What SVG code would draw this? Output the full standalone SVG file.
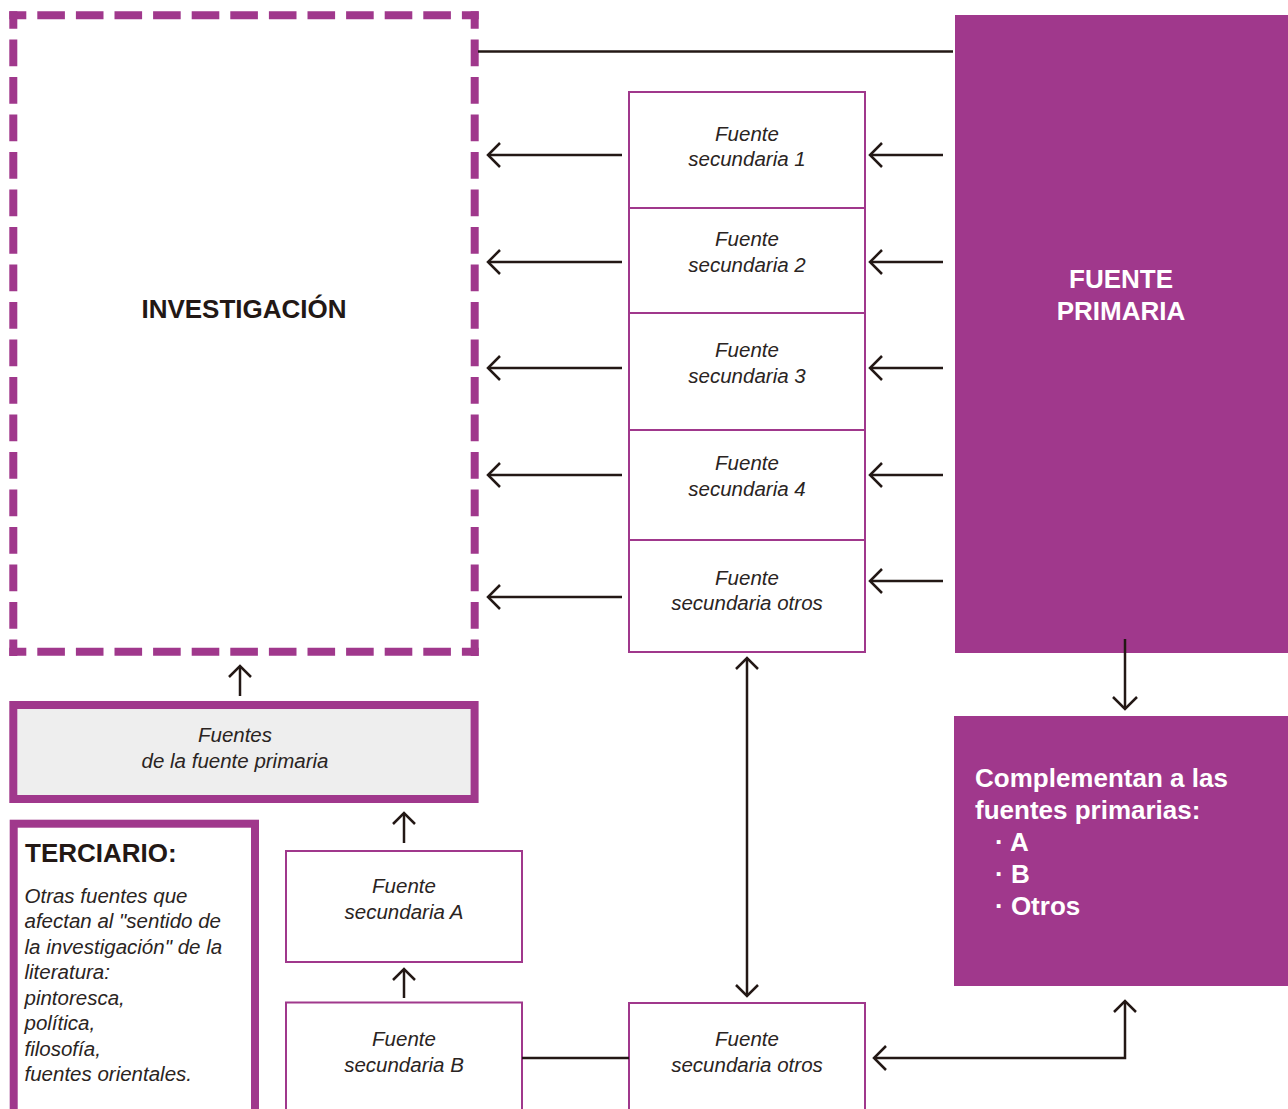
<svg xmlns="http://www.w3.org/2000/svg" width="1288" height="1109" viewBox="0 0 1288 1109">
<style>
.pur{fill:#a0388c}
.dash{stroke:#a0388c;stroke-width:8;fill:none;stroke-linecap:butt}
.dh{stroke-dasharray:27.6 11;stroke-dashoffset:10.6}
.dv{stroke-dasharray:26.6 10.9;stroke-dashoffset:9.2}
.box{fill:#ffffff;stroke:#a0388c;stroke-width:2}
.thick{stroke:#a0388c;stroke-width:8}
.lbl{font-family:"Liberation Sans",Arial,sans-serif;font-style:italic;font-size:20.5px;fill:#2a2422;text-anchor:middle}
.body{font-family:"Liberation Sans",Arial,sans-serif;font-style:italic;font-size:20.5px;fill:#2a2422}
.bold{font-family:"Liberation Sans",Arial,sans-serif;font-weight:bold;font-size:26px}
.cb{font-family:"Liberation Sans",Arial,sans-serif;font-weight:bold;font-size:26px;fill:#ffffff}
.w{fill:#ffffff}
.k{fill:#231815}
.ln{stroke:#231815;stroke-width:2.5;fill:none}
.head{stroke:#231815;stroke-width:2.5;fill:none;stroke-linejoin:miter}
</style>

<g id="investigacion">
<line class="dash dh" x1="9.3" y1="15.3" x2="478.7" y2="15.3"/>
<line class="dash dh" x1="9.3" y1="651.7" x2="478.7" y2="651.7"/>
<line class="dash dv" x1="13.3" y1="11.3" x2="13.3" y2="656"/>
<line class="dash dv" x1="474.7" y1="11.3" x2="474.7" y2="656"/>
<text class="bold k" x="244" y="318" text-anchor="middle">INVESTIGACIÓN</text>
</g>

<g id="fuente-primaria">
<rect class="pur" x="955" y="15" width="333" height="638"/>
<text class="bold w" x="1121" y="288" text-anchor="middle">FUENTE</text>
<text class="bold w" x="1121" y="320" text-anchor="middle">PRIMARIA</text>
</g>

<g id="sec1">
<rect class="box" x="629" y="92" width="236" height="116"/>
<text class="lbl" x="747" y="141">Fuente</text>
<text class="lbl" x="747" y="166">secundaria 1</text>
</g>
<g id="sec2">
<rect class="box" x="629" y="208" width="236" height="105"/>
<text class="lbl" x="747" y="246">Fuente</text>
<text class="lbl" x="747" y="272">secundaria 2</text>
</g>
<g id="sec3">
<rect class="box" x="629" y="313" width="236" height="117"/>
<text class="lbl" x="747" y="357">Fuente</text>
<text class="lbl" x="747" y="383">secundaria 3</text>
</g>
<g id="sec4">
<rect class="box" x="629" y="430" width="236" height="110"/>
<text class="lbl" x="747" y="470">Fuente</text>
<text class="lbl" x="747" y="496">secundaria 4</text>
</g>
<g id="sec-otros">
<rect class="box" x="629" y="540" width="236" height="112"/>
<text class="lbl" x="747" y="585">Fuente</text>
<text class="lbl" x="747" y="610">secundaria otros</text>
</g>

<g id="fuentes-fuente-primaria">
<rect x="13.3" y="705" width="461.3" height="94" fill="#eeeeee" class="thick"/>
<text class="lbl" x="235" y="742">Fuentes</text>
<text class="lbl" x="235" y="768">de la fuente primaria</text>
</g>

<g id="terciario">
<rect x="13.7" y="823.7" width="241.3" height="300" fill="#ffffff" class="thick"/>
<text class="bold k" x="25" y="862">TERCIARIO:</text>
<text class="body" x="24.5" y="903">Otras fuentes que</text>
<text class="body" x="24.5" y="928">afectan al "sentido de</text>
<text class="body" x="24.5" y="954">la investigación" de la</text>
<text class="body" x="24.5" y="979">literatura:</text>
<text class="body" x="24.5" y="1005">pintoresca,</text>
<text class="body" x="24.5" y="1030">política,</text>
<text class="body" x="24.5" y="1056">filosofía,</text>
<text class="body" x="24.5" y="1081">fuentes orientales.</text>
</g>

<g id="secA">
<rect class="box" x="286" y="851" width="236" height="111"/>
<text class="lbl" x="404" y="893">Fuente</text>
<text class="lbl" x="404" y="919">secundaria A</text>
</g>
<g id="secB">
<rect class="box" x="286" y="1002.5" width="236" height="120"/>
<text class="lbl" x="404" y="1046">Fuente</text>
<text class="lbl" x="404" y="1072">secundaria B</text>
</g>
<g id="sec-otros-bottom">
<rect class="box" x="629" y="1003" width="236" height="120"/>
<text class="lbl" x="747" y="1046">Fuente</text>
<text class="lbl" x="747" y="1072">secundaria otros</text>
</g>

<g id="complementan">
<rect class="pur" x="954" y="716" width="334" height="270"/>
<text class="cb" x="975" y="787">Complementan a las</text>
<text class="cb" x="975" y="819">fuentes primarias:</text>
<text class="cb" x="995" y="851">· A</text>
<text class="cb" x="995" y="883">· B</text>
<text class="cb" x="995" y="915">· Otros</text>
</g>

<g id="connectors">
<line class="ln" x1="478" y1="51.5" x2="953" y2="51.5"/>
<line class="ln" x1="622" y1="155" x2="488" y2="155"/><polyline class="head" points="500,143 488,155 500,167"/>
<line class="ln" x1="622" y1="262" x2="488" y2="262"/><polyline class="head" points="500,250 488,262 500,274"/>
<line class="ln" x1="622" y1="368" x2="488" y2="368"/><polyline class="head" points="500,356 488,368 500,380"/>
<line class="ln" x1="622" y1="475" x2="488" y2="475"/><polyline class="head" points="500,463 488,475 500,487"/>
<line class="ln" x1="622" y1="597" x2="488" y2="597"/><polyline class="head" points="500,585 488,597 500,609"/>
<line class="ln" x1="943" y1="155" x2="870" y2="155"/><polyline class="head" points="882,143 870,155 882,167"/>
<line class="ln" x1="943" y1="262" x2="870" y2="262"/><polyline class="head" points="882,250 870,262 882,274"/>
<line class="ln" x1="943" y1="368" x2="870" y2="368"/><polyline class="head" points="882,356 870,368 882,380"/>
<line class="ln" x1="943" y1="475" x2="870" y2="475"/><polyline class="head" points="882,463 870,475 882,487"/>
<line class="ln" x1="943" y1="581" x2="870" y2="581"/><polyline class="head" points="882,569 870,581 882,593"/>
<line class="ln" x1="1125" y1="639" x2="1125" y2="708"/><polyline class="head" points="1113,697 1125,709 1137,697"/>
<line class="ln" x1="240" y1="696" x2="240" y2="666"/><polyline class="head" points="229,677 240,666 251,677"/>
<line class="ln" x1="404" y1="843" x2="404" y2="813"/><polyline class="head" points="393,824 404,813 415,824"/>
<line class="ln" x1="404" y1="998" x2="404" y2="969"/><polyline class="head" points="393,980 404,969 415,980"/>
<line class="ln" x1="747" y1="658" x2="747" y2="996"/>
<polyline class="head" points="736,669 747,658 758,669"/>
<polyline class="head" points="736,985 747,996 758,985"/>
<line class="ln" x1="522" y1="1058" x2="629" y2="1058"/>
<polyline class="ln" points="1125,1001 1125,1058 874,1058"/>
<polyline class="head" points="1114,1012 1125,1001 1136,1012"/>
<polyline class="head" points="886,1046 874,1058 886,1070"/>
</g>
</svg>
